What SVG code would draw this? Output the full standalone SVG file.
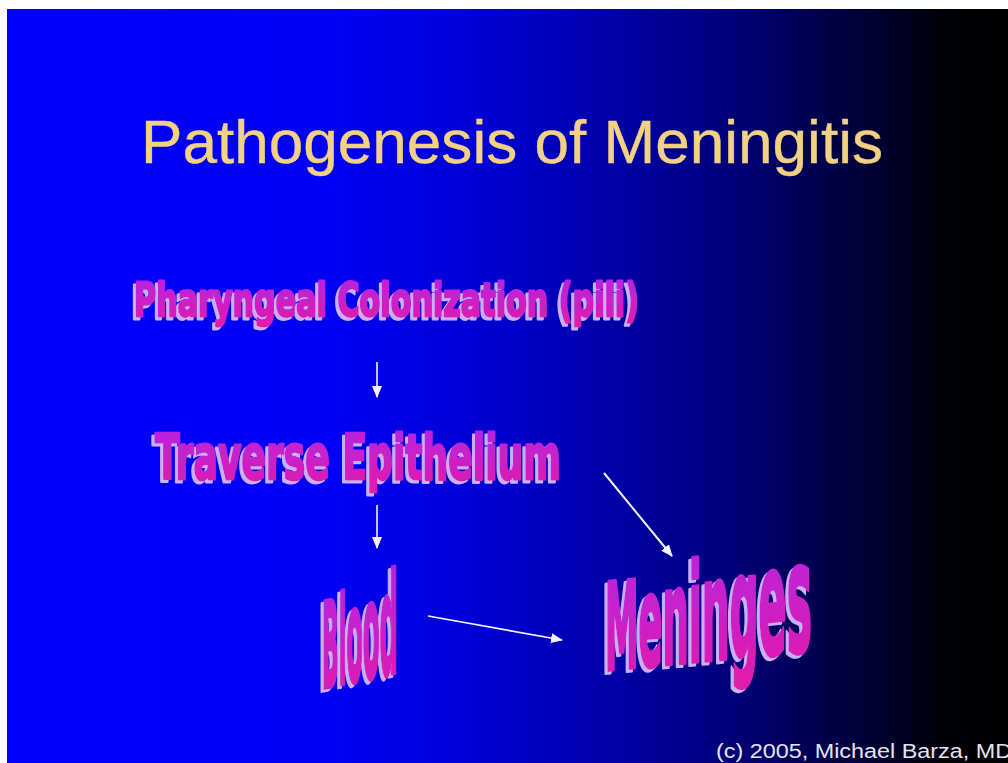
<svg xmlns="http://www.w3.org/2000/svg" width="1008" height="763" viewBox="0 0 1008 763">
<style>
.wa{font-family:"DejaVu Sans","Liberation Sans",sans-serif;font-weight:bold;fill:url(#wagrad);stroke:url(#wagrad);stroke-width:2.4;stroke-linejoin:round;vector-effect:non-scaling-stroke}
.title{font-family:"Liberation Sans",Arial,sans-serif;font-size:61px;fill:#F2D282;stroke:#F2D282;stroke-width:0.4}
.copy{font-family:"Liberation Sans",Arial,sans-serif;font-size:20px;fill:#E4E4F2}
.arr{stroke:#F4F4FF;stroke-width:1.6;fill:none;marker-end:url(#ah)}
</style>
<defs>
<linearGradient id="bg" gradientUnits="userSpaceOnUse" x1="7" y1="0" x2="1008" y2="0">
<stop offset="0" stop-color="#0000FF"/>
<stop offset="0.32" stop-color="#0000F4"/>
<stop offset="0.49" stop-color="#0000D0"/>
<stop offset="0.69" stop-color="#000088"/>
<stop offset="0.84" stop-color="#000040"/>
<stop offset="0.94" stop-color="#000008"/>
<stop offset="1" stop-color="#000000"/>
</linearGradient>
<linearGradient id="wagrad" x1="0" y1="0" x2="0" y2="1">
<stop offset="0" stop-color="#B024E8"/>
<stop offset="1" stop-color="#E41CA8"/>
</linearGradient>
<filter id="ext" x="-10%" y="-15%" width="120%" height="135%">
<feOffset in="SourceAlpha" dx="-3" dy="3" result="o"/>
<feFlood flood-color="#C8B0FF"/>
<feComposite in2="o" operator="in" result="s"/>
<feMerge><feMergeNode in="s"/><feMergeNode in="SourceGraphic"/></feMerge>
</filter>
<marker id="ah" viewBox="0 0 12 10" refX="11" refY="5" markerWidth="12" markerHeight="10" markerUnits="userSpaceOnUse" orient="auto">
<path d="M0,0 L12,5 L0,10 z" fill="#F4F4FF"/>
</marker>
</defs>
<rect x="0" y="0" width="1008" height="763" fill="#FFFFFF"/>
<rect x="7" y="9" width="1001" height="754" fill="url(#bg)"/>
<g id="title">
<text class="title" x="141" y="163" textLength="742" lengthAdjust="spacingAndGlyphs">Pathogenesis of Meningitis</text>
</g>
<g id="pharyngeal" filter="url(#ext)">
<text class="wa" font-size="30" transform="translate(134,316) scale(1,1.55)" x="0" y="0" textLength="505" lengthAdjust="spacingAndGlyphs">Pharyngeal Colonization (pili)</text>
</g>
<g id="traverse" filter="url(#ext)">
<text class="wa" font-size="36" transform="translate(155,479) scale(1,1.75)" x="0" y="0" textLength="406" lengthAdjust="spacingAndGlyphs">Traverse Epithelium</text>
</g>
<g id="blood" filter="url(#ext)">
<text class="wa" transform="translate(322,688) skewY(-12) scale(1,2.1)" x="0" y="0" textLength="76" lengthAdjust="spacingAndGlyphs"><tspan font-size="56">B</tspan><tspan font-size="58">l</tspan><tspan font-size="61">o</tspan><tspan font-size="63">o</tspan><tspan font-size="66">d</tspan></text>
</g>
<g id="meninges" filter="url(#ext)">
<text class="wa" transform="translate(605,670) skewY(-5.5) scale(1,2)" x="0" y="0" textLength="207" lengthAdjust="spacingAndGlyphs"><tspan font-size="60">M</tspan><tspan font-size="63">e</tspan><tspan font-size="66">n</tspan><tspan font-size="68">i</tspan><tspan font-size="70">n</tspan><tspan font-size="72">g</tspan><tspan font-size="74">e</tspan><tspan font-size="76">s</tspan></text>
</g>
<g id="connectors">
<line class="arr" x1="377" y1="362" x2="377" y2="397"/>
<line class="arr" x1="377" y1="505" x2="377" y2="548"/>
<line class="arr" x1="428" y1="616" x2="562" y2="640"/>
<line class="arr" x1="604" y1="473" x2="672" y2="556" style="stroke-width:2"/>
</g>
<g id="credit">
<text class="copy" x="716" y="758" textLength="296" lengthAdjust="spacingAndGlyphs">(c) 2005, Michael Barza, MD</text>
</g>
</svg>
